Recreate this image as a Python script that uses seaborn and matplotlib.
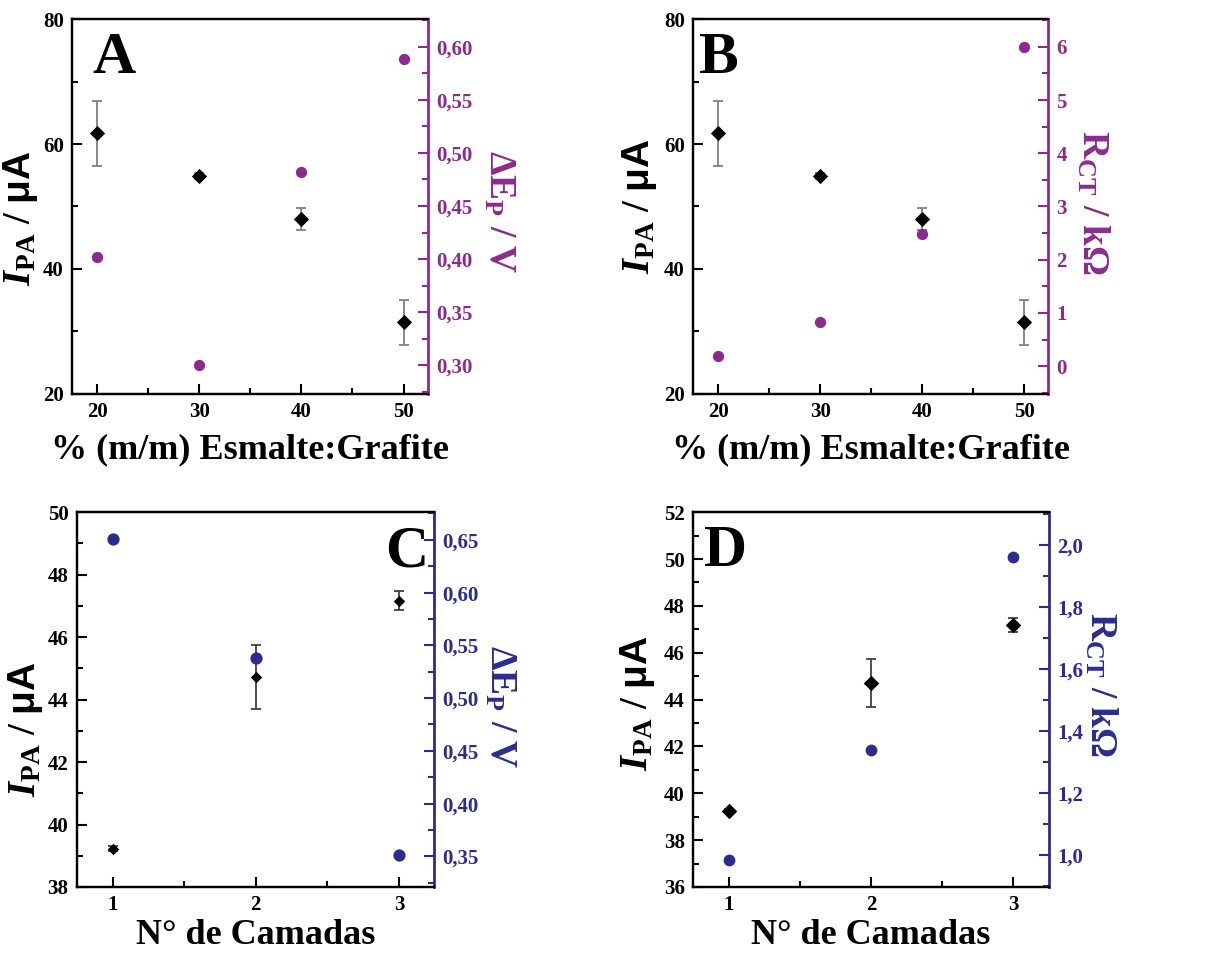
import matplotlib
matplotlib.use("Agg")
import matplotlib.pyplot as plt
from matplotlib.ticker import MultipleLocator, FuncFormatter
import seaborn as sns

# --- data -------------------------------------------------------------
pct = [20, 30, 40, 50]                      # % (m/m) enamel:graphite
ipa_pct = [61.7, 54.9, 48.0, 31.5]          # anodic peak current / uA
ipa_pct_err = [5.2, 0.5, 1.8, 3.6]
dep_pct = [0.402, 0.300, 0.482, 0.588]      # peak separation / V
rct_pct = [0.20, 0.83, 2.48, 5.99]          # charge transfer resistance / kOhm

layers = [1, 2, 3]                          # number of layers
ipa_layers = [39.23, 44.72, 47.17]
ipa_layers_err = [0.08, 1.03, 0.30]
dep_layers = [0.651, 0.538, 0.351]
rct_layers = [0.986, 1.339, 1.962]

PURPLE = "#8b2b8e"
BLUE = "#2b2d8c"

sns.set_style("ticks")
plt.rcParams.update({
    "font.family": ["Liberation Serif", "DejaVu Serif"],
    "font.weight": "bold",
    "text.color": "black",
    "axes.labelcolor": "black",
    "axes.edgecolor": "black",
    "xtick.color": "black",
    "ytick.color": "black",
    "mathtext.fontset": "custom",
    "mathtext.rm": "Liberation Serif:bold",
    "mathtext.it": "Liberation Serif:italic:bold",
    "mathtext.bf": "Liberation Serif:bold",
    "mathtext.sf": "Liberation Sans:bold",
    "axes.linewidth": 1.6,
})

comma2 = FuncFormatter(lambda v, p: f"{v:.2f}".replace(".", ","))
comma1 = FuncFormatter(lambda v, p: f"{v:.1f}".replace(".", ","))
intfmt = FuncFormatter(lambda v, p: f"{v:.0f}")

IPA_LABEL = r"$\mathit{I}_{\mathrm{PA}}$ / $\mathsf{\mu A}$"
DEP_LABEL = r"$\Delta\mathrm{E}_{\mathrm{P}}$ / V"
RCT_LABEL = r"$\mathrm{R}_{\mathrm{CT}}$ / k$\Omega$"

fig = plt.figure(figsize=(12.21, 9.56), dpi=100)


def style_axis(ax, color="black"):
    ax.tick_params(axis="both", which="major", direction="in", length=7,
                   width=1.5, labelsize=15, colors=color, pad=6)
    ax.tick_params(axis="both", which="minor", direction="in", length=4.5,
                   width=1.5, colors=color)
    for lab in ax.get_xticklabels() + ax.get_yticklabels():
        lab.set_fontweight("bold")


def panel(rect, x, y, yerr, y2, color, xlim, ylim, ylim2, xmaj, ymaj, y2maj,
          y2fmt, xlabel, y2label, letter, letter_xy, letter_ha,
          d_size, c_size, lab_pos, xlabelpad, ecolor):
    ax = fig.add_axes(rect)
    ax.errorbar(x, y, yerr=yerr, fmt="none", ecolor=ecolor,
                elinewidth=1.3, capsize=3.5, capthick=1.3, zorder=2)
    sns.scatterplot(x=x, y=y, marker="D", s=d_size, color="black",
                    linewidth=0, ax=ax, zorder=3)
    ax.set_xlim(*xlim)
    ax.set_ylim(*ylim)
    ax.xaxis.set_major_locator(MultipleLocator(xmaj))
    ax.xaxis.set_minor_locator(MultipleLocator(xmaj / 2))
    ax.yaxis.set_major_locator(MultipleLocator(ymaj))
    ax.yaxis.set_minor_locator(MultipleLocator(ymaj / 2))
    ax.xaxis.set_major_formatter(intfmt)
    ax.yaxis.set_major_formatter(intfmt)
    style_axis(ax)
    ax.set_xlabel(xlabel, fontsize=26, fontweight="bold", labelpad=xlabelpad)
    ax.set_ylabel(IPA_LABEL, fontsize=28, fontweight="bold")
    ax.yaxis.set_label_coords(*lab_pos[0])
    ax.yaxis.label.set_verticalalignment("center")

    ax2 = ax.twinx()
    sns.scatterplot(x=x, y=y2, marker="o", s=c_size, color=color,
                    linewidth=0, ax=ax2, zorder=3)
    ax2.set_ylim(*ylim2)
    ax2.yaxis.set_major_locator(MultipleLocator(y2maj))
    ax2.yaxis.set_minor_locator(MultipleLocator(y2maj / 2))
    ax2.yaxis.set_major_formatter(y2fmt)
    style_axis(ax2, color)
    ax2.tick_params(axis="x", which="both", length=0)
    ax2.spines["right"].set_color(color)
    ax2.spines["right"].set_linewidth(2.0)
    ax2.set_ylabel(y2label, fontsize=27, fontweight="bold", color=color,
                   rotation=-90)
    ax2.yaxis.set_label_coords(*lab_pos[1])
    ax2.yaxis.label.set_verticalalignment("center")
    ax.spines["right"].set_visible(False)

    ax2.text(letter_xy[0], letter_xy[1], letter, transform=ax.transAxes,
             fontsize=43, fontweight="bold", ha=letter_ha, va="top",
             color="black", zorder=5)
    return ax, ax2


XL_PCT = "% (m/m) Esmalte:Grafite"
XL_LAY = "N° de Camadas"

panel([0.059, 0.588, 0.2916, 0.392], pct, ipa_pct, ipa_pct_err, dep_pct,
      PURPLE, (17.55, 52.4), (20, 80), (0.273, 0.626), 10, 20, 0.05, comma2,
      XL_PCT, DEP_LABEL, "A", (0.058, 0.965), "left", 60, 66,
      ((-0.145, 0.47), (1.20, 0.485)), 8, "#808080")

panel([0.5676, 0.588, 0.2907, 0.392], pct, ipa_pct, ipa_pct_err, rct_pct,
      PURPLE, (17.55, 52.3), (20, 80), (-0.52, 6.52), 10, 20, 1, intfmt,
      XL_PCT, RCT_LABEL, "B", (0.015, 0.965), "left", 60, 66,
      ((-0.15, 0.50), (1.125, 0.51)), 8, "#808080")

panel([0.063, 0.0722, 0.2924, 0.392], layers, ipa_layers, ipa_layers_err,
      dep_layers, BLUE, (0.75, 3.245), (38, 50), (0.321, 0.6762), 1, 2, 0.05,
      comma2, XL_LAY, DEP_LABEL, "C", (0.985, 0.965), "right", 34, 78,
      ((-0.145, 0.42), (1.185, 0.48)), 3, "#404040")

panel([0.5676, 0.0722, 0.2916, 0.392], layers, ipa_layers, ipa_layers_err,
      rct_layers, BLUE, (0.75, 3.25), (36, 52), (0.898, 2.105), 1, 2, 0.2,
      comma1, XL_LAY, RCT_LABEL, "D", (0.03, 0.965), "left", 62, 72,
      ((-0.155, 0.49), (1.145, 0.54)), 3, "#404040")

fig.savefig("out.png", dpi=100, facecolor="white")
